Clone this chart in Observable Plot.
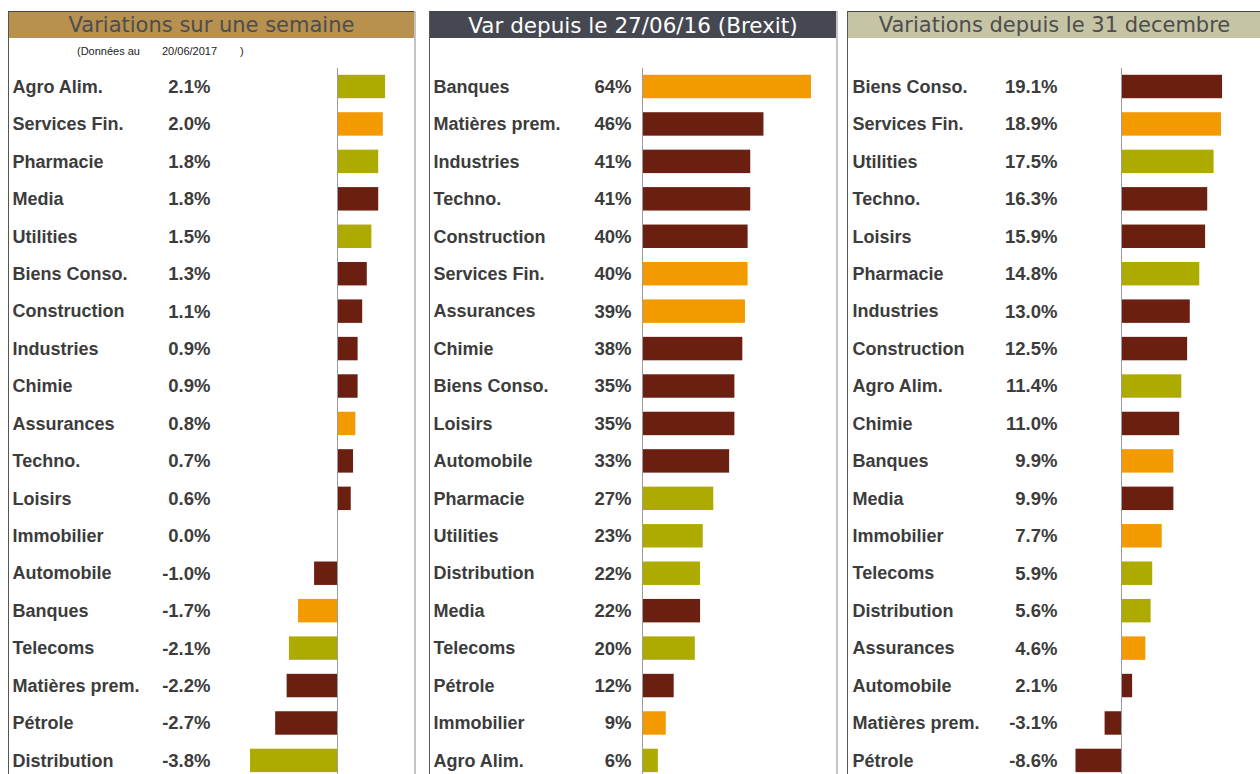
<!DOCTYPE html>
<html><head><meta charset="utf-8">
<script src="https://cdn.jsdelivr.net/npm/d3@7"></script>
<script src="https://cdn.jsdelivr.net/npm/@observablehq/plot@0.6"></script>
<style>
body{margin:0;background:#fff;width:1260px;height:774px;overflow:hidden;position:relative;font-family:"Liberation Sans",Arial,sans-serif}
.panel{position:absolute;top:11px;height:800px;border-left:1px solid #555;border-right:2px solid #c4c4c4;box-sizing:border-box}
.hdr{height:27px;border-top:1px solid #444;box-sizing:border-box;font-family:"DejaVu Sans",sans-serif;font-size:21px;line-height:27px;text-align:center;white-space:nowrap;overflow:hidden}
.chart{position:absolute;top:38px}
.chart svg{display:block}
.note{position:absolute;top:45px;font-size:11px;color:#222;font-family:"Liberation Sans",Arial,sans-serif}
</style></head><body>
<div class="panel" style="left:8px;width:408px"><div class="hdr" style="background:#b8914f;color:#4d4d4d">Variations sur une semaine</div></div>
<div class="panel" style="left:429px;width:409px"><div class="hdr" style="background:#454850;color:#ffffff;font-size:21.5px">Var depuis le 27/06/16 (Brexit)</div></div>
<div class="panel" style="left:847px;width:430px"><div class="hdr" style="background:#c5c4a4;color:#4d4d4d;width:413px">Variations depuis le 31 decembre</div></div>
<span class="note" style="left:77px">(Données au</span>
<span class="note" style="left:162px">20/06/2017</span>
<span class="note" style="left:240px">)</span>
<div id="c1" class="chart" style="left:9px"></div>
<div id="c2" class="chart" style="left:430px"></div>
<div id="c3" class="chart" style="left:848px"></div>
<script>
// Sector groups (colour families)
const oliveSectors = ["Agro Alim.", "Pharmacie", "Utilities", "Telecoms", "Distribution"];
const orangeSectors = ["Services Fin.", "Assurances", "Banques", "Immobilier"];
const groupNames = ["groupe A", "groupe B", "groupe C"];
const groupColors = ["#aeab00", "#f39a00", "#6b1f10"];

// Panel 1: Variations sur une semaine (%)
const weekSectors = ["Agro Alim.", "Services Fin.", "Pharmacie", "Media", "Utilities", "Biens Conso.", "Construction", "Industries", "Chimie", "Assurances", "Techno.", "Loisirs", "Immobilier", "Automobile", "Banques", "Telecoms", "Matières prem.", "Pétrole", "Distribution"];
const weekValues = [2.1, 2.0, 1.8, 1.8, 1.5, 1.3, 1.1, 0.9, 0.9, 0.8, 0.7, 0.6, 0.0, -1.0, -1.7, -2.1, -2.2, -2.7, -3.8];

// Panel 2: Var depuis le 27/06/16 (Brexit) (%)
const brexitSectors = ["Banques", "Matières prem.", "Industries", "Techno.", "Construction", "Services Fin.", "Assurances", "Chimie", "Biens Conso.", "Loisirs", "Automobile", "Pharmacie", "Utilities", "Distribution", "Media", "Telecoms", "Pétrole", "Immobilier", "Agro Alim."];
const brexitValues = [64, 46, 41, 41, 40, 40, 39, 38, 35, 35, 33, 27, 23, 22, 22, 20, 12, 9, 6];

// Panel 3: Variations depuis le 31 decembre (%)
const ytdSectors = ["Biens Conso.", "Services Fin.", "Utilities", "Techno.", "Loisirs", "Pharmacie", "Industries", "Construction", "Agro Alim.", "Chimie", "Banques", "Media", "Immobilier", "Telecoms", "Distribution", "Assurances", "Automobile", "Matières prem.", "Pétrole"];
const ytdValues = [19.1, 18.9, 17.5, 16.3, 15.9, 14.8, 13.0, 12.5, 11.4, 11.0, 9.9, 9.9, 7.7, 5.9, 5.6, 4.6, 2.1, -3.1, -8.6];

const groupOf = s => oliveSectors.includes(s) ? groupNames[0] : orangeSectors.includes(s) ? groupNames[1] : groupNames[2];

function drawPanel(target, sectors, values, fmt, cfg) {
  const data = sectors.map((s, i) => ({sector: s, value: values[i], group: groupOf(s)}));
  const step = 37.44, c0 = 48.5;
  const zx = cfg.zero - cfg.left;
  const chart = Plot.plot({
    width: cfg.width, height: 736, margin: 0,
    style: {fontFamily: "'Liberation Sans', Arial, sans-serif", overflow: "visible", background: "transparent"},
    x: {domain: cfg.domain, range: [zx + cfg.domain[0] * cfg.ppu, zx + cfg.domain[1] * cfg.ppu], axis: null},
    y: {domain: sectors, range: [c0 - step / 2, c0 + (sectors.length - 0.5) * step], padding: 0, round: false, axis: null},
    color: {type: "ordinal", domain: groupNames, range: groupColors},
    marks: [
      Plot.barX(data, {x: "value", y: "sector", fill: "group", insetTop: 7, insetBottom: 7}),
      Plot.ruleX([0], {stroke: "#9c9c9c", strokeWidth: 1, insetTop: 30}),
      Plot.text(data, {y: "sector", text: "sector", frameAnchor: "left", dx: cfg.labelDx, textAnchor: "start", fontSize: 18, fontWeight: "bold", fill: "#3c3c3c"}),
      Plot.text(data, {y: "sector", text: d => fmt(d.value), frameAnchor: "left", dx: cfg.valueDx, textAnchor: "end", fontSize: 18.5, fontWeight: "bold", fill: "#3c3c3c"})
    ]
  });
  document.getElementById(target).append(chart);
}

const f1 = v => v.toFixed(1) + "%";
const f0 = v => v.toFixed(0) + "%";
drawPanel("c1", weekSectors, weekValues, f1, {left: 9, width: 404, zero: 337, ppu: 22.9, domain: [-4, 3], labelDx: 3, valueDx: 201});
drawPanel("c2", brexitSectors, brexitValues, f0, {left: 430, width: 404, zero: 642, ppu: 2.64, domain: [0, 70], labelDx: 3, valueDx: 201});
drawPanel("c3", ytdSectors, ytdValues, f1, {left: 848, width: 412, zero: 1121, ppu: 5.29, domain: [-10, 20], labelDx: 4, valueDx: 209});
</script>
</body></html>
